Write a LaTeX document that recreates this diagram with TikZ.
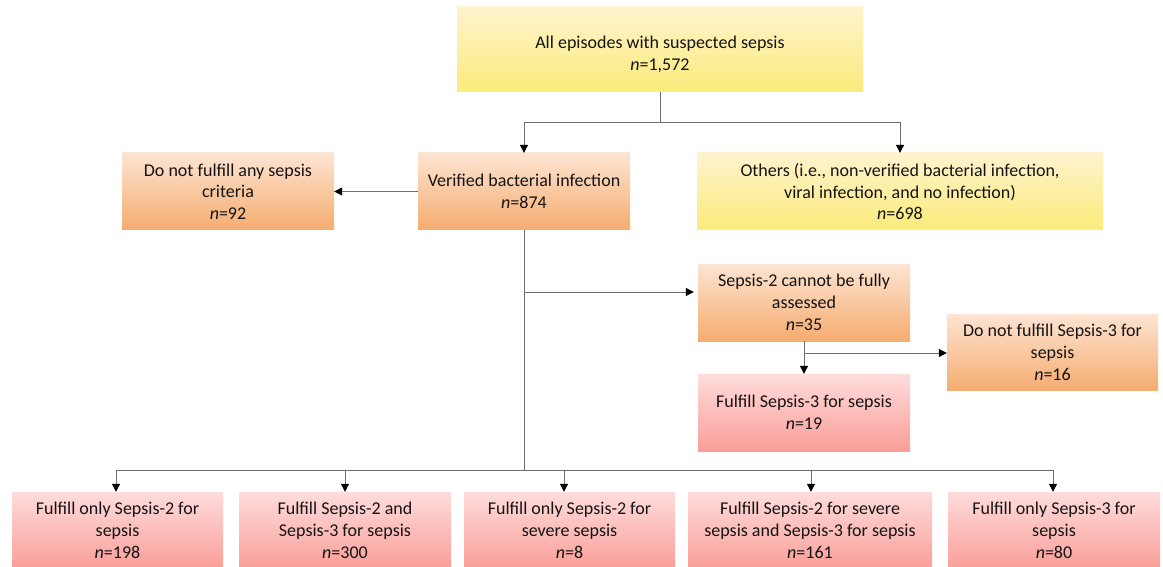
\documentclass[tikz,border=0pt]{standalone}
\usepackage{fontspec}
\setmainfont{Carlito}
\usetikzlibrary{arrows.meta}
\definecolor{yelT}{RGB}{255,243,206}
\definecolor{yelB}{RGB}{251,235,122}
\definecolor{orgT}{RGB}{253,228,210}
\definecolor{orgB}{RGB}{245,172,112}
\definecolor{pnkT}{RGB}{255,220,220}
\definecolor{pnkB}{RGB}{249,158,152}
\definecolor{lineC}{RGB}{110,110,110}
\tikzset{
  box/.style={rectangle, inner sep=0pt, align=center,
    font=\fontsize{18}{21.7}\selectfont, text=black!92},
  ybox/.style={box, top color=yelT, bottom color=yelB},
  obox/.style={box, top color=orgT, bottom color=orgB},
  pbox/.style={box, top color=pnkT, bottom color=pnkB},
  conn/.style={draw=lineC, line width=1pt},
  arr/.style={conn, -{Triangle[width=8pt,length=8pt,color=black]}},
}
\begin{document}
\begin{tikzpicture}[x=1pt,y=-1pt]
\useasboundingbox[fill=white] (0,0) rectangle (1163,567);

\node[ybox, minimum width=406pt, minimum height=85pt] (top) at (660,49.5)
  {\rule{0pt}{23pt}All episodes with suspected sepsis\\ \textit{n}=1,572};
\node[obox, minimum width=212pt, minimum height=77pt] (verified) at (524,191.5)
  {Verified bacterial infection\\ \textit{n}=874};
\node[obox, minimum width=212pt, minimum height=77pt] (none) at (228,191.5)
  {Do not fulfill any sepsis\\ criteria\\ \textit{n}=92};
\node[ybox, minimum width=406pt, minimum height=77pt] (others) at (900,191.5)
  {Others (i.e., non-verified bacterial infection,\\ viral infection, and no infection)\\ \textit{n}=698};
\node[obox, minimum width=212pt, minimum height=77pt] (s2na) at (804,302.5)
  {Sepsis-2 cannot be fully\\ assessed\\ \textit{n}=35};
\node[obox, minimum width=211pt, minimum height=76pt] (nos3) at (1052.5,352.5)
  {Do not fulfill Sepsis-3 for\\ sepsis\\ \textit{n}=16};
\node[pbox, minimum width=212pt, minimum height=77pt] (s3) at (804,412.5)
  {Fulfill Sepsis-3 for sepsis\\ \textit{n}=19};

\node[pbox, minimum width=211pt, minimum height=77pt] (b1) at (117.5,530.5)
  {Fulfill only Sepsis-2 for\\ sepsis\\ \textit{n}=198};
\node[pbox, minimum width=212pt, minimum height=77pt] (b2) at (345,530.5)
  {Fulfill Sepsis-2 and\\ Sepsis-3 for sepsis\\ \textit{n}=300};
\node[pbox, minimum width=211pt, minimum height=77pt] (b3) at (569.5,530.5)
  {Fulfill only Sepsis-2 for\\ severe sepsis\\ \textit{n}=8};
\node[pbox, minimum width=244pt, minimum height=77pt] (b4) at (810,530.5)
  {Fulfill Sepsis-2 for severe\\ sepsis and Sepsis-3 for sepsis\\ \textit{n}=161};
\node[pbox, minimum width=212pt, minimum height=77pt] (b5) at (1054,530.5)
  {Fulfill only Sepsis-3 for\\ sepsis\\ \textit{n}=80};

\coordinate (j1) at (660,123);
\coordinate (j2) at (524,292);
\coordinate (j3) at (524,470);
\coordinate (j4) at (804,353);

\draw[conn] (top.south) -- (j1);
\draw[arr] (j1) -| (verified.north);
\draw[arr] (j1) -| (others.north);
\draw[arr] (verified.west) -- (none.east);
\draw[conn] (verified.south) -- (j3);
\draw[arr, shorten >=4pt] (j2) -- (s2na.west |- j2);
\draw[arr] (s2na.south) -- (s3.north);
\draw[arr] (j4) -- (nos3.west |- j4);
\draw[arr] (j3) -| ([xshift=-1.5pt]b1.north);
\draw[arr] (j3) -| (b2.north);
\draw[arr] (j3) -| ([xshift=-5.5pt]b3.north);
\draw[arr] (j3) -| ([xshift=1pt]b4.north);
\draw[arr] (j3) -| ([xshift=-1pt]b5.north);
\end{tikzpicture}
\end{document}
